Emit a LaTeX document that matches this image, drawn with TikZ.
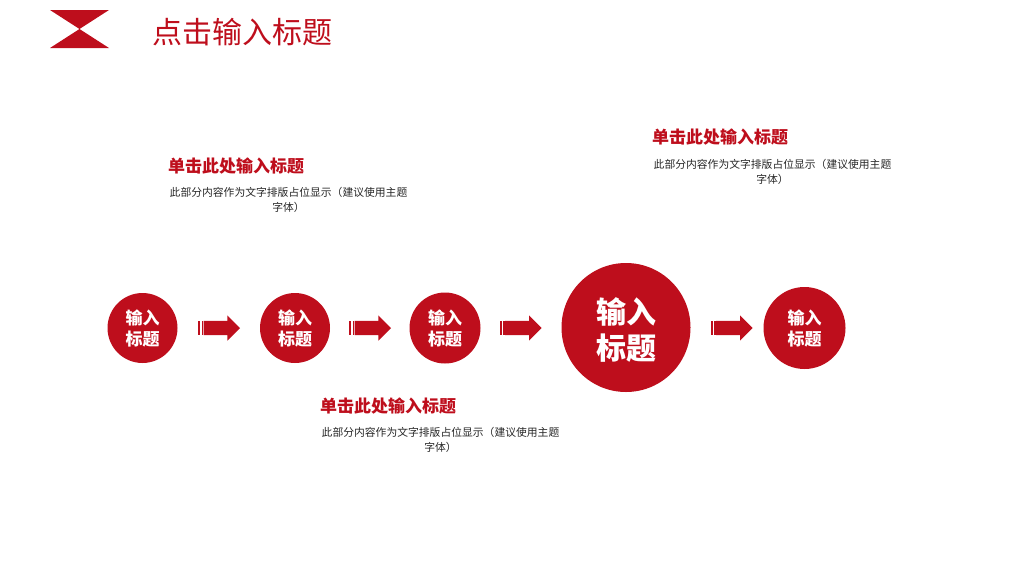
\documentclass[tikz,border=0pt]{standalone}
\usepackage{fontspec}
\usepackage{xcolor}
\setmainfont{Noto Sans CJK SC}
\usetikzlibrary{shapes.arrows}
\definecolor{brandred}{RGB}{190,14,28}
\tikzset{
    stepcircle/.style={circle, fill=brandred, text=white, inner sep=0pt, align=center, font=\bfseries\fontsize{17}{21}\selectfont},
    stripearrow/.style={single arrow, anchor=tail, fill=brandred, inner xsep=0pt, inner ysep=7pt, minimum width=25pt, minimum height=36.5pt, single arrow head extend=5.5pt, single arrow head indent=0pt},
    heading/.style={text=brandred, anchor=west, inner sep=0pt, font=\bfseries\fontsize{17}{20}\selectfont},
    bodytext/.style={text=black!85, align=center, inner sep=0pt, text width=245pt, font=\fontsize{10.8}{15}\selectfont}
}
\newcommand{\stripes}[1]{
    \foreach \dx in {1.7,5}
        \fill[brandred] ([xshift=-\dx pt]#1.tail) ++(0,-7pt) rectangle ++(1.5pt,14pt);
}
\begin{document}
\begin{tikzpicture}[x=1pt,y=-1pt]
    \useasboundingbox (0,0) rectangle (1024,576);

    \fill[brandred] (50,10) -- (109,10) -- (79.5,29) -- cycle;
    \fill[brandred] (50,48) -- (109,48) -- (79.5,29) -- cycle;
    \node[text=brandred, anchor=west, inner sep=0pt, font=\fontsize{30}{36}\selectfont] (title) at (152,32) {点击输入标题};

    \node[stepcircle, minimum size=70pt] (first) at (142.5,328) {输入\\标题};
    \node[stepcircle, minimum size=70pt] (second) at (295,328) {输入\\标题};
    \node[stepcircle, minimum size=71pt] (third) at (445,328) {输入\\标题};
    \node[stepcircle, minimum size=129pt, font=\bfseries\fontsize{30}{36}\selectfont] (big) at (626,327.5) {\rule{0pt}{30pt}输入\\标题};
    \node[stepcircle, minimum size=82pt] (last) at (804.5,328) {输入\\标题};

    \node[stripearrow] (arrowa) at (203.3,328) {};
    \node[stripearrow] (arrowb) at (354.3,328) {};
    \node[stripearrow] (arrowc) at (505,328) {};
    \node[stripearrow] (arrowd) at (716,328) {};
    \stripes{arrowa}
    \stripes{arrowb}
    \stripes{arrowc}
    \stripes{arrowd}

    \node[heading] (heada) at (168,166) {单击此处输入标题};
    \node[bodytext] (bodya) at (288.5,199.5) {此部分内容作为文字排版占位显示（建议使用主题\\字体）};
    \node[heading] (headb) at (320,406) {单击此处输入标题};
    \node[bodytext] (bodyb) at (440.5,440) {此部分内容作为文字排版占位显示（建议使用主题\\字体）};
    \node[heading] (headc) at (652,137) {单击此处输入标题};
    \node[bodytext] (bodyc) at (772.5,171.5) {此部分内容作为文字排版占位显示（建议使用主题\\字体）};
\end{tikzpicture}
\end{document}
